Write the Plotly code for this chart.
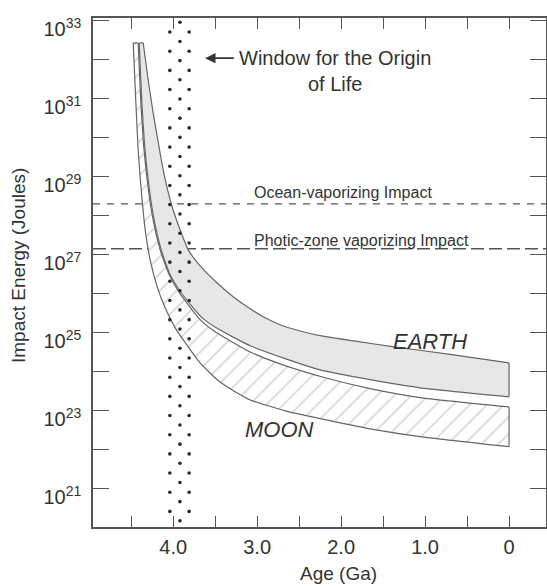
import numpy as np
import plotly.graph_objects as go

# ---------------- data (age in Ga, log10 of impact energy in J) ----------------
EARTH_UPPER_AGE = [4.357, 4.298, 4.238, 4.167, 4.095, 4.012, 3.917, 3.821, 3.679, 3.476,
                   3.286, 3.083, 2.905, 2.726, 2.488, 2.250, 1.774, 1.393, 0.702, 0.000]
EARTH_UPPER_LOGE = [32.42, 31.47, 30.62, 29.73, 28.91, 28.21, 27.62, 27.11, 26.70, 26.26,
                    25.91, 25.60, 25.37, 25.19, 25.03, 24.91, 24.75, 24.63, 24.43, 24.21]

EARTH_LOWER_AGE = [4.405, 4.375, 4.345, 4.298, 4.238, 4.143, 4.036, 3.905, 3.667, 3.488,
                   3.083, 2.667, 2.250, 1.655, 1.060, 0.000]
EARTH_LOWER_LOGE = [32.42, 30.96, 29.93, 28.91, 28.01, 27.11, 26.47, 26.01, 25.39, 25.11,
                    24.65, 24.32, 24.03, 23.78, 23.57, 23.34]

MOON_UPPER_AGE = [4.417, 4.387, 4.357, 4.310, 4.250, 4.155, 4.048, 3.917, 3.679, 3.500,
                  3.083, 2.667, 2.190, 1.655, 1.060, 0.000]
MOON_UPPER_LOGE = [32.42, 30.96, 29.93, 28.91, 28.01, 27.11, 26.47, 25.98, 25.32, 25.01,
                   24.49, 24.14, 23.83, 23.55, 23.32, 23.08]

MOON_LOWER_AGE = [4.476, 4.446, 4.417, 4.381, 4.333, 4.274, 4.190, 4.095, 3.976, 3.857,
                  3.679, 3.476, 3.262, 3.083, 2.667, 2.250, 1.655, 1.060, 0.000]
MOON_LOWER_LOGE = [32.42, 30.96, 29.67, 28.65, 27.62, 26.85, 26.16, 25.62, 25.11, 24.73,
                   24.21, 23.78, 23.47, 23.26, 22.98, 22.78, 22.52, 22.32, 22.06]

OCEAN_VAPORIZING_LOGE = 28.29
PHOTIC_VAPORIZING_LOGE = 27.14

WINDOW_COLUMN_AGES = [4.04, 3.92, 3.81]     # stipple columns of the origin-of-life window
WINDOW_TOP_LOGE = [32.70, 32.95, 32.70]
WINDOW_BOTTOM_LOGE = 20.05
WINDOW_DOT_STEP = 0.492

X_TICK_VALS = [4.5, 4.0, 3.5, 3.0, 2.5, 2.0, 1.5, 1.0, 0.5, 0.0]
X_TICK_TEXT = ["", "4.0", "", "3.0", "", "2.0", "", "1.0", "", "0"]
Y_TICK_EXP = list(range(20, 34))
Y_TICK_TEXT = [("10<sup>%d</sup>" % e) if e % 2 == 1 else "" for e in Y_TICK_EXP]

X_RANGE = [4.955, -0.44]
Y_RANGE = [20.0, 33.06]

# ---------------- styling ----------------
FONT = "Liberation Sans, Arial, Helvetica, sans-serif"
TXT = "#333333"
LINE = "#555555"
BAND_LINE = "#666666"
SMOOTH = 0.5


def E(logs):
    return [10.0 ** v for v in logs]


fig = go.Figure()

# threshold lines (drawn first so the bands cover them)
for lv, dash in [(OCEAN_VAPORIZING_LOGE, "7px,7px"), (PHOTIC_VAPORIZING_LOGE, "13px,5px")]:
    fig.add_trace(go.Scatter(x=X_RANGE, y=E([lv, lv]), mode="lines",
                             line=dict(color=LINE, width=1.3, dash=dash),
                             hoverinfo="skip", showlegend=False))

# Moon band (hatched)
fig.add_trace(go.Scatter(x=MOON_UPPER_AGE, y=E(MOON_UPPER_LOGE), mode="lines",
                         line=dict(color=BAND_LINE, width=1.2, shape="spline", smoothing=SMOOTH),
                         showlegend=False, hoverinfo="skip"))
fig.add_trace(go.Scatter(x=MOON_LOWER_AGE, y=E(MOON_LOWER_LOGE), mode="lines",
                         line=dict(color=BAND_LINE, width=1.2, shape="spline", smoothing=SMOOTH),
                         fill="tonexty", fillcolor="white",
                         fillpattern=dict(shape="/", size=12, solidity=0.1,
                                          fgcolor="#858585", bgcolor="white"),
                         showlegend=False, hoverinfo="skip"))

# Earth band (gray)
fig.add_trace(go.Scatter(x=EARTH_UPPER_AGE, y=E(EARTH_UPPER_LOGE), mode="lines",
                         line=dict(color=BAND_LINE, width=1.2, shape="spline", smoothing=SMOOTH),
                         showlegend=False, hoverinfo="skip"))
fig.add_trace(go.Scatter(x=EARTH_LOWER_AGE, y=E(EARTH_LOWER_LOGE), mode="lines",
                         line=dict(color=BAND_LINE, width=1.2, shape="spline", smoothing=SMOOTH),
                         fill="tonexty", fillcolor="#e7e7e7",
                         showlegend=False, hoverinfo="skip"))

# closing edges of the bands
for up_a, up_l, lo_a, lo_l in [(MOON_UPPER_AGE, MOON_UPPER_LOGE, MOON_LOWER_AGE, MOON_LOWER_LOGE),
                               (EARTH_UPPER_AGE, EARTH_UPPER_LOGE, EARTH_LOWER_AGE, EARTH_LOWER_LOGE)]:
    for i in (0, -1):
        fig.add_trace(go.Scatter(x=[up_a[i], lo_a[i]], y=E([up_l[i], lo_l[i]]), mode="lines",
                                 line=dict(color=BAND_LINE, width=1.2),
                                 showlegend=False, hoverinfo="skip"))

# stipple of the "window for the origin of life"
for age, top in zip(WINDOW_COLUMN_AGES, WINDOW_TOP_LOGE):
    ys = np.arange(top, WINDOW_BOTTOM_LOGE, -WINDOW_DOT_STEP)
    fig.add_trace(go.Scatter(x=[age] * len(ys), y=10.0 ** ys, mode="markers",
                             marker=dict(size=3.6, color="#2a2a2a"),
                             showlegend=False, hoverinfo="skip", cliponaxis=True))

annotations = [
    dict(x=2.07, y=31.71, xref="x", yref="y", text="Window for the Origin<br>of Life",
         showarrow=False, align="center", xanchor="center", yanchor="middle",
         font=dict(size=20, color=TXT, family=FONT)),
    dict(x=3.62, y=32.03, ax=3.26, ay=32.03, xref="x", yref="y", axref="x", ayref="y",
         text="", showarrow=True, arrowhead=2, arrowsize=1.3, arrowwidth=1.6, arrowcolor=TXT),
    dict(x=3.06, y=28.58, xref="x", yref="y", text="Ocean-vaporizing Impact",
         showarrow=False, xanchor="left", yanchor="middle",
         font=dict(size=16, color=TXT, family=FONT)),
    dict(x=3.06, y=27.34, xref="x", yref="y", text="Photic-zone vaporizing Impact",
         showarrow=False, xanchor="left", yanchor="middle",
         font=dict(size=16, color=TXT, family=FONT)),
    dict(x=0.94, y=24.75, xref="x", yref="y", text="<i>EARTH</i>",
         showarrow=False, xanchor="center", yanchor="middle",
         font=dict(size=22, color=TXT, family=FONT)),
    dict(x=2.73, y=22.49, xref="x", yref="y", text="<i>MOON</i>",
         showarrow=False, xanchor="center", yanchor="middle",
         font=dict(size=22, color=TXT, family=FONT)),
    dict(x=0.543, y=-0.092, xref="paper", yref="paper", text="Age (Ga)",
         showarrow=False, xanchor="center", yanchor="middle",
         font=dict(size=19, color=TXT, family=FONT)),
    dict(x=-0.163, y=0.513, xref="paper", yref="paper", text="Impact Energy (Joules)",
         showarrow=False, xanchor="center", yanchor="middle", textangle=-90,
         font=dict(size=19, color=TXT, family=FONT)),
]

fig.update_layout(
    width=547, height=586,
    margin=dict(l=93, r=1, t=18, b=59),
    paper_bgcolor="white", plot_bgcolor="white",
    font=dict(family=FONT, color=TXT, size=20),
    annotations=annotations,
    showlegend=False,
)
fig.update_xaxes(range=X_RANGE, tickmode="array", tickvals=X_TICK_VALS, ticktext=X_TICK_TEXT,
                 ticks="inside", ticklen=11, tickwidth=1.3, tickcolor=LINE,
                 showline=True, linecolor=LINE, linewidth=1.5, mirror="ticks",
                 showgrid=False, zeroline=False, automargin=False,
                 tickfont=dict(size=20, color=TXT, family=FONT), ticklabelstandoff=1)
fig.update_yaxes(type="log", range=Y_RANGE, tickmode="array",
                 tickvals=[10.0 ** e for e in Y_TICK_EXP], ticktext=Y_TICK_TEXT,
                 ticks="inside", ticklen=16, tickwidth=1.3, tickcolor=LINE,
                 showline=True, linecolor=LINE, linewidth=1.5, mirror="ticks",
                 showgrid=False, zeroline=False, automargin=False,
                 tickfont=dict(size=20, color=TXT, family=FONT), ticklabelstandoff=6,
                 ticklabelshift=9, ticklabeloverflow="allow")

fig.write_html("out.html", config={"displayModeBar": False},
               post_script="document.body.style.margin='0';document.body.style.padding='0';"
                           "document.body.style.overflow='hidden';")
